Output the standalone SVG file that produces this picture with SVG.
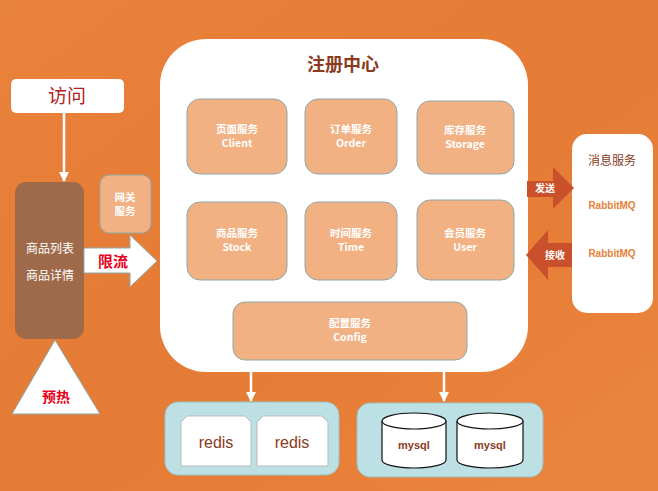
<svg xmlns="http://www.w3.org/2000/svg" width="658" height="491" viewBox="0 0 658 491">
<defs>
<linearGradient id="bg" x1="0" y1="0" x2="1" y2="1">
<stop offset="0" stop-color="#E9823B"/>
<stop offset="0.5" stop-color="#E57B34"/>
<stop offset="1" stop-color="#EB853E"/>
</linearGradient>
<marker id="ah" viewBox="0 0 10 10" refX="9" refY="5" markerWidth="4" markerHeight="4" orient="auto" markerUnits="strokeWidth">
<path d="M0,0 L10,5 L0,10 z" fill="#FFFFFF"/>
</marker>
</defs>
<style>
.cjk{font-family:"Noto Sans CJK SC","Noto Sans",sans-serif;}
.svc{fill:#F2B183;stroke:#8FA8A8;stroke-width:1;}
.svct{font-family:"Noto Sans CJK SC","Noto Sans",sans-serif;font-size:10.5px;font-weight:bold;fill:#FFFFFF;text-anchor:middle;}
.conn{stroke:#FFFFFF;stroke-width:2.5;fill:none;marker-end:url(#ah);}
.cont{fill:#BCE0E3;stroke:#9CC4C8;stroke-width:1;}
</style>
<rect x="0" y="0" width="658" height="491" fill="url(#bg)"/>

<g id="connectors">
<line class="conn" x1="64" y1="113" x2="64" y2="181"/>
<line class="conn" x1="251" y1="372" x2="251" y2="401"/>
<line class="conn" x1="444" y1="372" x2="444" y2="401"/>
</g>

<g id="registry">
<rect x="160" y="39" width="368" height="333" rx="46" fill="#FFFFFF"/>
<text x="343" y="71" class="cjk" font-size="18" font-weight="bold" fill="#8B3A1E" text-anchor="middle">注册中心</text>
</g>

<g id="client">
<rect class="svc" x="187" y="99" width="100" height="75" rx="13"/>
<text class="svct" x="237" y="133">页面服务</text>
<text class="svct" x="237" y="147">Client</text>
</g>
<g id="order">
<rect class="svc" x="305" y="99" width="92" height="75" rx="13"/>
<text class="svct" x="351" y="133">订单服务</text>
<text class="svct" x="351" y="147">Order</text>
</g>
<g id="storage">
<rect class="svc" x="417" y="101" width="97" height="73" rx="13"/>
<text class="svct" x="465" y="134">库存服务</text>
<text class="svct" x="465" y="148">Storage</text>
</g>
<g id="stock">
<rect class="svc" x="187" y="202" width="100" height="78" rx="13"/>
<text class="svct" x="237" y="237">商品服务</text>
<text class="svct" x="237" y="251">Stock</text>
</g>
<g id="time">
<rect class="svc" x="305" y="202" width="92" height="78" rx="13"/>
<text class="svct" x="351" y="237">时间服务</text>
<text class="svct" x="351" y="251">Time</text>
</g>
<g id="user">
<rect class="svc" x="417" y="200" width="97" height="80" rx="13"/>
<text class="svct" x="465" y="237">会员服务</text>
<text class="svct" x="465" y="251">User</text>
</g>
<g id="config">
<rect class="svc" x="233" y="302" width="234" height="58" rx="12"/>
<text class="svct" x="350" y="327">配置服务</text>
<text class="svct" x="350" y="341">Config</text>
</g>

<g id="visit">
<rect x="11" y="79" width="113" height="34" rx="5" fill="#FFFFFF"/>
<text x="67" y="103" class="cjk" font-size="19" fill="#B22222" text-anchor="middle">访问</text>
</g>

<g id="goods">
<rect x="15" y="182" width="69" height="157" rx="11" fill="#9E6A4A"/>
<text x="50" y="253" class="cjk" font-size="12" fill="#FFFFFF" text-anchor="middle">商品列表</text>
<text x="50" y="280" class="cjk" font-size="12" fill="#FFFFFF" text-anchor="middle">商品详情</text>
</g>

<g id="gateway">
<rect class="svc" x="100" y="175" width="51" height="58" rx="9"/>
<text class="svct" x="125" y="201">网关</text>
<text class="svct" x="125" y="215">服务</text>
</g>

<g id="limit">
<path d="M84,248 L130,248 L130,235 L157,261 L130,287 L130,273 L84,273 z" fill="#FFFFFF" stroke="#8FA8A8" stroke-width="1"/>
<text x="113" y="267" class="cjk" font-size="15" font-weight="bold" fill="#E8001C" text-anchor="middle">限流</text>
</g>

<g id="preheat">
<path d="M55,340 L100,414 L12,414 z" fill="#FFFFFF" stroke="#8FA8A8" stroke-width="1"/>
<text x="56" y="402" class="cjk" font-size="14" font-weight="bold" fill="#E8001C" text-anchor="middle">预热</text>
</g>

<g id="mq">
<rect x="572" y="134" width="81" height="179" rx="15" fill="#FFFFFF"/>
<text x="612" y="165" class="cjk" font-size="12" fill="#8B3A1E" text-anchor="middle">消息服务</text>
<text x="612" y="209" font-family="Liberation Sans, Arial, sans-serif" font-size="10" font-weight="bold" fill="#E8803A" text-anchor="middle">RabbitMQ</text>
<text x="612" y="257" font-family="Liberation Sans, Arial, sans-serif" font-size="10" font-weight="bold" fill="#E8803A" text-anchor="middle">RabbitMQ</text>
</g>

<g id="send">
<path d="M527,181 L553,181 L553,167 L574,188 L553,209 L553,197 L527,197 z" fill="#C9502A"/>
<text x="545" y="192" class="cjk" font-size="10" font-weight="bold" fill="#FFFFFF" text-anchor="middle">发送</text>
</g>

<g id="recv">
<path d="M572,243 L548,243 L548,230 L526,255 L548,280 L548,267 L572,267 z" fill="#C9502A"/>
<text x="555" y="259" class="cjk" font-size="10" font-weight="bold" fill="#FFFFFF" text-anchor="middle">接收</text>
</g>

<g id="redis-group">
<rect class="cont" x="165" y="402" width="174" height="73" rx="13"/>
<path d="M187,416 L245,416 L251,422 L251,466 L181,466 L181,422 z" fill="#FFFFFF" stroke="#BBBBBB" stroke-width="1"/>
<path d="M263,416 L322,416 L328,422 L328,466 L257,466 L257,422 z" fill="#FFFFFF" stroke="#BBBBBB" stroke-width="1"/>
<text x="216" y="448" font-family="Liberation Sans, Arial, sans-serif" font-size="16" fill="#8B3A1E" text-anchor="middle">redis</text>
<text x="292" y="448" font-family="Liberation Sans, Arial, sans-serif" font-size="16" fill="#8B3A1E" text-anchor="middle">redis</text>
</g>

<g id="mysql-group">
<rect class="cont" x="357" y="403" width="186" height="74" rx="13"/>
<path d="M382,421 L382,460 A32,8 0 0 0 446,460 L446,421" fill="#FFFFFF" stroke="#111111" stroke-width="1.2"/>
<ellipse cx="414" cy="421" rx="32" ry="8" fill="#FFFFFF" stroke="#111111" stroke-width="1.2"/>
<path d="M457,421 L457,460 A33,8 0 0 0 523,460 L523,421" fill="#FFFFFF" stroke="#111111" stroke-width="1.2"/>
<ellipse cx="490" cy="421" rx="33" ry="8" fill="#FFFFFF" stroke="#111111" stroke-width="1.2"/>
<text x="414" y="449" font-family="Liberation Sans, Arial, sans-serif" font-size="11" font-weight="bold" fill="#8B3A1E" text-anchor="middle">mysql</text>
<text x="490" y="449" font-family="Liberation Sans, Arial, sans-serif" font-size="11" font-weight="bold" fill="#8B3A1E" text-anchor="middle">mysql</text>
</g>
</svg>
